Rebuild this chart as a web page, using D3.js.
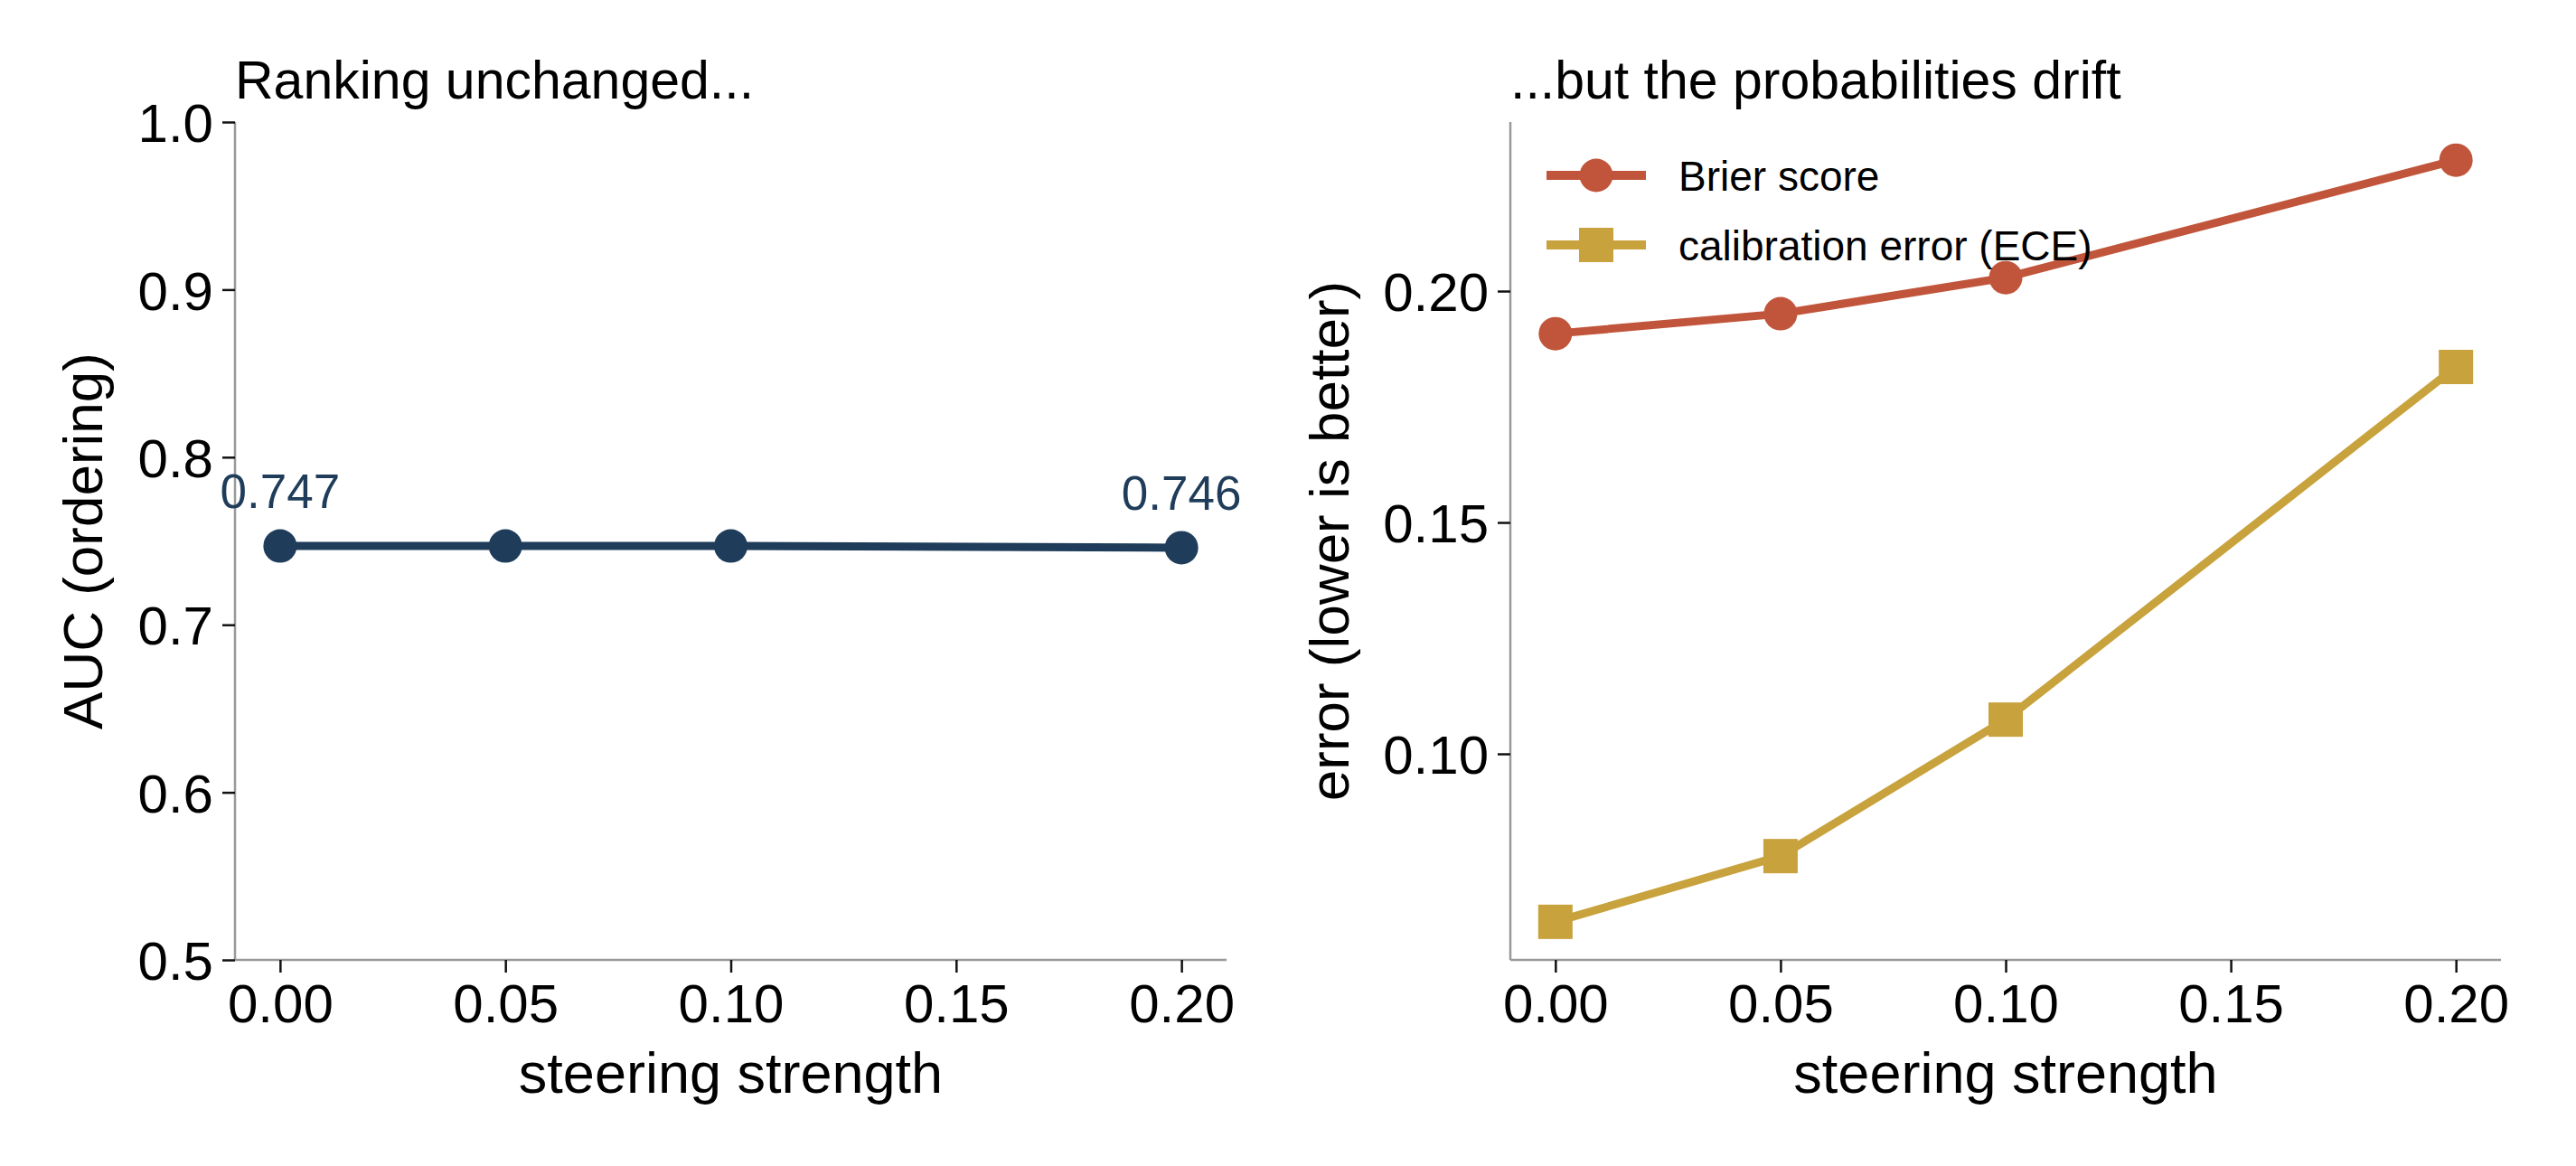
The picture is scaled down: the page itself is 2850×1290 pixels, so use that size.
<!DOCTYPE html>
<html>
<head>
<meta charset="utf-8">
<script src="https://cdn.jsdelivr.net/npm/d3@7"></script>
<style>
  body { margin: 0; background: #fff; }
  text { font-family: "Liberation Sans", Arial, Helvetica, sans-serif; }
</style>
</head>
<body>
<div id="chart"></div>
<script>
// data
const strengths = [0.00, 0.05, 0.10, 0.20];
const aucValues = [0.747, 0.747, 0.747, 0.746];
const brierValues = [0.1908, 0.1951, 0.2029, 0.2283];
const eceValues = [0.0637, 0.0779, 0.1074, 0.1836];
const xTicks = [0.00, 0.05, 0.10, 0.15, 0.20];
const aucTicks = [0.5, 0.6, 0.7, 0.8, 0.9, 1.0];
const errTicks = [0.10, 0.15, 0.20];
const legendItems = [
  { name: "Brier score", color: "#c1553b", shape: "circle" },
  { name: "calibration error (ECE)", color: "#c8a23c", shape: "square" }
];

const navy = "#1f3d5a";
const W = 2850, H = 1290;

const svg = d3.select("#chart").append("svg")
  .attr("width", W)
  .attr("height", H);

svg.append("rect").attr("width", W).attr("height", H).attr("fill", "#fff");

// panel boxes (pixel extents of the axes areas)
const panelTop = 135, panelBottom = 1062;
const leftPanel = { x0: 260, x1: 1357 };
const rightPanel = { x0: 1671, x1: 2767 };

function drawAxes(g, x, y, yTicks, yFmt, panel) {
  // x axis
  const xa = g.append("g")
    .attr("transform", `translate(0,${panelBottom})`)
    .call(d3.axisBottom(x).tickValues(xTicks).tickFormat(d3.format(".2f")).tickSize(14).tickPadding(12));
  // y axis
  const ya = g.append("g")
    .attr("transform", `translate(${panel.x0},0)`)
    .call(d3.axisLeft(y).tickValues(yTicks).tickFormat(yFmt).tickSize(14).tickPadding(10));

  [xa, ya].forEach(a => {
    a.select(".domain").attr("stroke", "#999").attr("stroke-width", 2.5);
    a.selectAll(".tick line").attr("stroke", "#111").attr("stroke-width", 2.5);
    a.selectAll(".tick text").attr("fill", "#000").style("font-size", "60px");
  });
  // matplotlib style: domain has no end ticks
  xa.select(".domain").attr("d", `M${panel.x0},0H${panel.x1}`);
  ya.select(".domain").attr("d", `M0,${panelTop}V${panelBottom}`);
  ya.selectAll(".tick text").attr("dy", "0.36em");
  xa.selectAll(".tick text").attr("dy", "0.71em");
}

// ---- left panel: AUC ----
const xL = d3.scaleLinear().domain([-0.01, 0.21]).range([leftPanel.x0, leftPanel.x1]);
const yL = d3.scaleLinear().domain([0.5, 1.0]).range([panelBottom, panelTop]);
const gL = svg.append("g");
drawAxes(gL, xL, yL, aucTicks, d3.format(".1f"), leftPanel);

const aucData = strengths.map((s, i) => ({ s, v: aucValues[i] }));
gL.append("path")
  .datum(aucData)
  .attr("fill", "none")
  .attr("stroke", navy)
  .attr("stroke-width", 9)
  .attr("d", d3.line().x(d => xL(d.s)).y(d => yL(d.v)));

gL.selectAll("circle.auc")
  .data(aucData)
  .enter().append("circle")
  .attr("class", "auc")
  .attr("cx", d => xL(d.s))
  .attr("cy", d => yL(d.v))
  .attr("r", 18.5)
  .attr("fill", navy);

// labels on first and last point
gL.selectAll("text.ann")
  .data([aucData[0], aucData[aucData.length - 1]])
  .enter().append("text")
  .attr("class", "ann")
  .attr("x", d => xL(d.s))
  .attr("y", d => yL(d.v) - 42)
  .attr("text-anchor", "middle")
  .attr("fill", navy)
  .style("font-size", "53px")
  .text(d => d3.format(".3f")(d.v));

gL.append("text")
  .attr("x", leftPanel.x0)
  .attr("y", 109)
  .style("font-size", "59px")
  .text("Ranking unchanged...");

gL.append("text")
  .attr("transform", `translate(113,${(panelTop + panelBottom) / 2}) rotate(-90)`)
  .attr("text-anchor", "middle")
  .style("font-size", "62px")
  .text("AUC (ordering)");

gL.append("text")
  .attr("x", (leftPanel.x0 + leftPanel.x1) / 2)
  .attr("y", 1209)
  .attr("text-anchor", "middle")
  .style("font-size", "63px")
  .text("steering strength");

// ---- right panel: errors ----
const allErr = brierValues.concat(eceValues);
const eMin = d3.min(allErr), eMax = d3.max(allErr);
const pad = (eMax - eMin) * 0.05;
const xR = d3.scaleLinear().domain([-0.01, 0.21]).range([rightPanel.x0, rightPanel.x1]);
const yR = d3.scaleLinear().domain([eMin - pad, eMax + pad]).range([panelBottom, panelTop]);
const gR = svg.append("g");
drawAxes(gR, xR, yR, errTicks, d3.format(".2f"), rightPanel);

const lineR = d3.line().x(d => xR(d.s)).y(d => yR(d.v));
const brierData = strengths.map((s, i) => ({ s, v: brierValues[i] }));
const eceData = strengths.map((s, i) => ({ s, v: eceValues[i] }));

gR.append("path")
  .datum(brierData)
  .attr("fill", "none")
  .attr("stroke", legendItems[0].color)
  .attr("stroke-width", 9)
  .attr("d", lineR);

gR.selectAll("circle.brier")
  .data(brierData)
  .enter().append("circle")
  .attr("class", "brier")
  .attr("cx", d => xR(d.s))
  .attr("cy", d => yR(d.v))
  .attr("r", 18.5)
  .attr("fill", legendItems[0].color);

gR.append("path")
  .datum(eceData)
  .attr("fill", "none")
  .attr("stroke", legendItems[1].color)
  .attr("stroke-width", 9)
  .attr("d", lineR);

const sq = 38;
gR.selectAll("rect.ece")
  .data(eceData)
  .enter().append("rect")
  .attr("class", "ece")
  .attr("x", d => xR(d.s) - sq / 2)
  .attr("y", d => yR(d.v) - sq / 2)
  .attr("width", sq)
  .attr("height", sq)
  .attr("fill", legendItems[1].color);

gR.append("text")
  .attr("x", rightPanel.x0)
  .attr("y", 109)
  .style("font-size", "59px")
  .text("...but the probabilities drift");

gR.append("text")
  .attr("transform", `translate(1492,${(panelTop + panelBottom) / 2}) rotate(-90)`)
  .attr("text-anchor", "middle")
  .style("font-size", "62px")
  .text("error (lower is better)");

gR.append("text")
  .attr("x", (rightPanel.x0 + rightPanel.x1) / 2)
  .attr("y", 1209)
  .attr("text-anchor", "middle")
  .style("font-size", "63px")
  .text("steering strength");

// legend
const legend = gR.append("g");
legendItems.forEach((d, i) => {
  const cy = 194 + i * 77;
  const row = legend.append("g");
  row.append("line")
    .attr("x1", 1711).attr("x2", 1821)
    .attr("y1", cy).attr("y2", cy)
    .attr("stroke", d.color)
    .attr("stroke-width", 10);
  if (d.shape === "circle") {
    row.append("circle").attr("cx", 1766).attr("cy", cy).attr("r", 18.5).attr("fill", d.color);
  } else {
    row.append("rect").attr("x", 1766 - sq / 2).attr("y", cy - sq / 2)
      .attr("width", sq).attr("height", sq).attr("fill", d.color);
  }
  row.append("text")
    .attr("x", 1857)
    .attr("y", cy)
    .attr("dy", "0.36em")
    .style("font-size", "46px")
    .text(d.name);
});
</script>
</body>
</html>
